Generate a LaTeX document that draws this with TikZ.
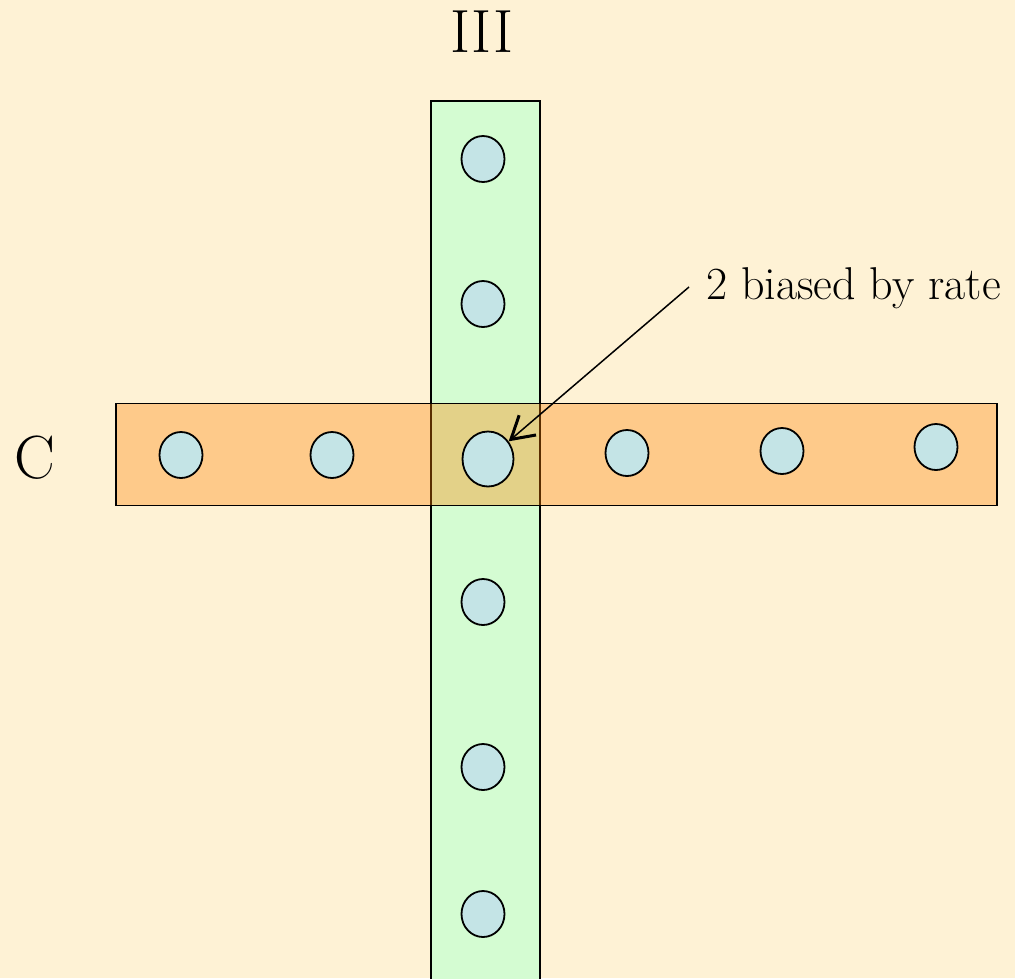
\documentclass[tikz,border=0pt]{standalone}
\usetikzlibrary{arrows.meta,shapes.geometric}
\definecolor{bgpaper}{RGB}{254,242,213}
\definecolor{greenbar}{RGB}{212,252,210}
\definecolor{orangebar}{RGB}{255,130,0}
\definecolor{dotfill}{RGB}{196,228,230}
\tikzset{
  dot/.style={ellipse, draw=black, line width=1.8pt, fill=dotfill, minimum width=43pt, minimum height=46pt, inner sep=0pt},
  bigdot/.style={dot, minimum width=51pt, minimum height=55pt},
  vbar/.style={draw=black, line width=1.5pt, fill=greenbar},
  hbar/.style={draw=black, line width=1.5pt, fill=orangebar, fill opacity=0.35},
  bigtext/.style={font=\fontsize{61}{66}\selectfont, anchor=base, inner sep=0pt},
  labeltext/.style={font=\fontsize{46}{52}\selectfont, anchor=base west, inner sep=0pt},
  pointer/.style={line width=1.5pt, -{Straight Barb[length=22pt, width=26pt, line width=3pt]}}
}
\begin{document}
\begin{tikzpicture}[x=1pt, y=-1pt]
\fill[bgpaper] (0,0) rectangle (1015,978);
\useasboundingbox (0,0) rectangle (1015,978);
\clip (0,0) rectangle (1015,978);
% bars
\draw[vbar] (431,101) rectangle (540,990);
\draw[hbar] (116,403.5) rectangle (997,505.5);
% dots on vertical bar
\node[dot] (v1) at (483,159) {};
\node[dot] (v2) at (483,304) {};
\node[dot] (v4) at (483,602) {};
\node[dot] (v5) at (483,767) {};
\node[dot] (v6) at (483,914) {};
% dots on horizontal bar
\node[dot] (h1) at (181,455) {};
\node[dot] (h2) at (332,455) {};
\node[bigdot] (c) at (488,459) {};
\node[dot] (h4) at (627,453) {};
\node[dot] (h5) at (782,451) {};
\node[dot] (h6) at (936,447) {};
% labels
\node[bigtext] (tIII) at (482,52.5) {III};
\node[bigtext] (tC) at (35,478) {C};
\node[labeltext] (tlab) at (706,299.5) {2 biased by rate};
\coordinate (astart) at (689,287);
\draw[pointer] (astart) -- (c);
\end{tikzpicture}
\end{document}
